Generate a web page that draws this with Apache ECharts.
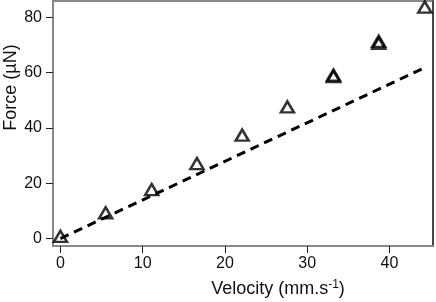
<!DOCTYPE html>
<html>
<head>
<meta charset="utf-8">
<script src="https://cdn.jsdelivr.net/npm/echarts@6/dist/echarts.min.js"></script>
<style>html,body{margin:0;padding:0;background:#fff}#c{width:436px;height:302px}</style>
</head>
<body>
<div id="c"></div>
<script>
const velocity = [0, 5.5, 11.1, 16.6, 22.1, 27.6, 33.2, 33.2, 38.7, 38.7, 44.3];
const force = [0.8, 9.3, 17.7, 27.1, 37.4, 47.6, 59.1, 58.6, 71.3, 70.6, 83.7];
const fitVelocity = [0, 44.5];
const fitForce = [0, 62.1];
const xTicks = [0, 10, 20, 30, 40];
const yTicks = [0, 20, 40, 60, 80];

const font = 'Liberation Sans, Arial, Helvetica, sans-serif';
const chart = echarts.init(document.getElementById('c'), null, {renderer: 'canvas'});
chart.setOption({
  animation: false,
  backgroundColor: '#fff',
  grid: {left: 53, right: 3, top: 1, bottom: 56, containLabel: false, outerBoundsMode: 'none',
         show: true, borderColor: '#888', borderWidth: 2},
  xAxis: {
    type: 'value', min: -0.9, max: 45.3,
    splitLine: {show: false},
    axisLine: {show: true, onZero: false, lineStyle: {color: '#888', width: 2}},
    axisTick: {show: true, length: 7, customValues: xTicks, lineStyle: {color: '#222', width: 1}},
    axisLabel: {customValues: xTicks, color: '#111', fontFamily: font, fontSize: 16, margin: 10},
    name: '{a|Velocity (mm.s}{s|-1}{a|)}',
    nameLocation: 'middle', nameGap: 33, nameMoveOverlap: false,
    nameTextStyle: {padding: [0, 0, 0, 70], rich: {
      a: {fontFamily: font, fontSize: 18, color: '#111'},
      s: {fontFamily: font, fontSize: 12, color: '#111', verticalAlign: 'top', padding: [0, 0, 8, 0]}
    }}
  },
  yAxis: [{
    type: 'value', min: -2.7, max: 85.9,
    splitLine: {show: false},
    axisLine: {show: true, onZero: false, lineStyle: {color: '#888', width: 2}},
    axisTick: {show: true, length: 7, customValues: yTicks, lineStyle: {color: '#222', width: 1}},
    axisLabel: {customValues: yTicks, color: '#111', fontFamily: font, fontSize: 16, margin: 11},
    name: 'Force (µN)',
    nameLocation: 'middle', nameGap: 33, nameMoveOverlap: false,
    nameTextStyle: {fontFamily: font, fontSize: 18, color: '#111', padding: [0, 0, 0, 72]}
  }, {
    type: 'value', min: -2.7, max: 85.9, position: 'right',
    splitLine: {show: false},
    axisLine: {show: true, onZero: false, lineStyle: {color: '#333', width: 1.5}},
    axisTick: {show: false}, axisLabel: {show: false}
  }],
  series: [{
    type: 'line',
    data: fitVelocity.map((v, i) => [v, fitForce[i]]),
    symbol: 'none',
    lineStyle: {color: '#000', width: 3, type: [9, 6]},
    z: 2
  }, {
    type: 'scatter',
    data: velocity.map((v, i) => [v, force[i]]),
    symbol: 'triangle',
    symbolSize: [13, 11],
    itemStyle: {color: 'rgba(255,255,255,0)', borderColor: '#000', borderWidth: 2.5},
    z: 3
  }]
});
</script>
</body>
</html>
